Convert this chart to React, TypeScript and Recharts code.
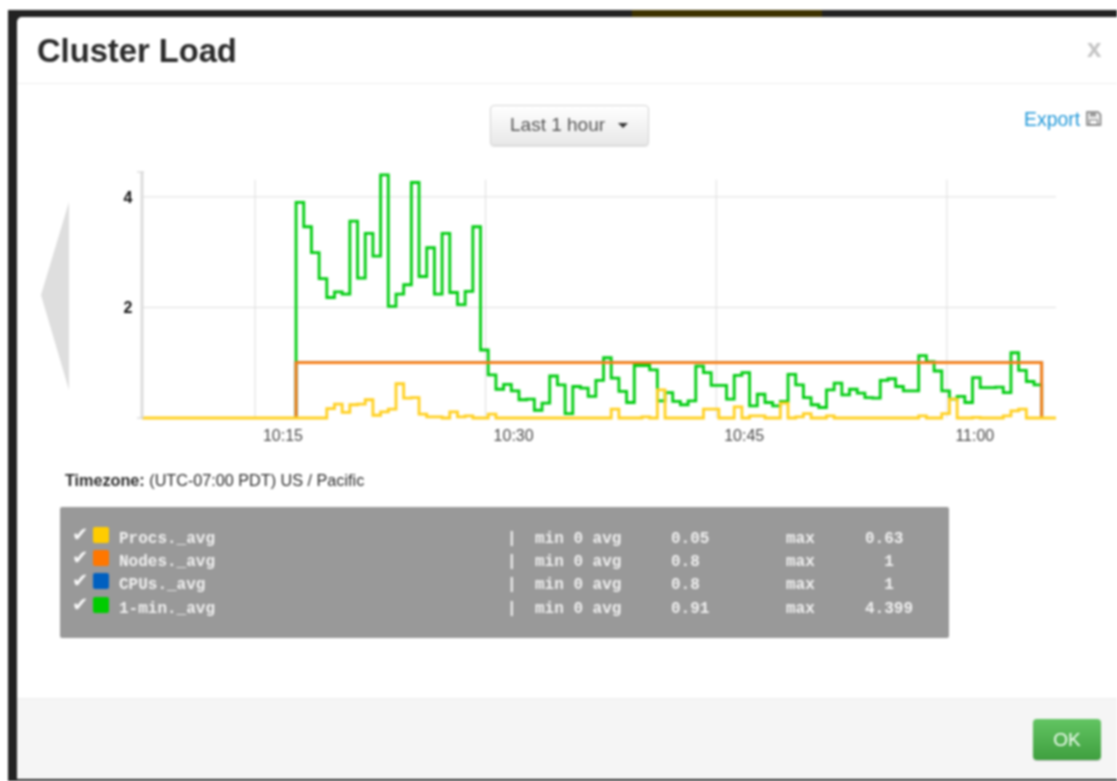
import { Line, LineChart, ReferenceLine, XAxis, YAxis } from 'recharts';

// minutes after 10:00 on the x axis, one bin every 30 seconds
const axisStart = 7.65;
const axisEnd = 67.1;
const firstBin = 17.67;
const binSize = 0.5;

const xTicks = [15, 30, 45, 60];
const xTickLabels = ['10:15', '10:30', '10:45', '11:00'];
const yTicks = [0, 2, 4, 4.45];
const yGrid = [2, 4];
const yMax = 4.45;

const loadValues = [
  3.9, 3.46, 2.99, 2.52, 2.18, 2.28, 2.24, 3.56, 2.53, 3.34,
  2.93, 4.399, 2.02, 2.24, 2.41, 4.26, 2.56, 3.08, 2.24, 3.34,
  2.27, 2.05, 2.29, 3.46, 1.23, 0.78, 0.52, 0.61, 0.49, 0.33,
  0.34, 0.14, 0.27, 0.76, 0.6, 0.08, 0.57, 0.54, 0.39, 0.68,
  1.09, 0.72, 0.48, 0.28, 0.95, 0.95, 0.87, 0.31, 0.46, 0.3,
  0.24, 0.31, 0.94, 0.82, 0.59, 0.59, 0.34, 0.77, 0.82, 0.22,
  0.43, 0.28, 0.22, 0.3, 0.79, 0.6, 0.37, 0.24, 0.19, 0.51,
  0.63, 0.42, 0.52, 0.45, 0.37, 0.36, 0.68, 0.71, 0.57, 0.49,
  0.49, 1.13, 1.02, 0.85, 0.49, 0.34, 0.39, 0.28, 0.73, 0.55,
  0.55, 0.56, 0.46, 1.18, 0.86, 0.66, 0.6,
];

const procsValues = [
  0, 0, 0, 0, 0.17, 0.25, 0.1, 0.24, 0.25, 0.33,
  0.05, 0.11, 0.16, 0.62, 0.36, 0.37, 0.07, 0.02, 0.02, 0,
  0.11, 0.02, 0.04, 0, 0, 0.07, 0, 0, 0, 0,
  0, 0, 0, 0, 0, 0, 0, 0, 0, 0,
  0, 0.16, 0, 0, 0, 0.02, 0, 0.51, 0, 0,
  0, 0, 0, 0.16, 0.16, 0, 0, 0.2, 0, 0.04,
  0.04, 0, 0, 0.27, 0, 0.02, 0.08, 0, 0, 0.04,
  0, 0, 0, 0, 0, 0, 0, 0, 0, 0,
  0, 0.04, 0, 0, 0.08, 0.34, 0, 0, 0.01, 0,
  0, 0, 0.04, 0.13, 0.16, 0, 0,
];

// nodes and cpus sit flat at 1 for the whole run
const nodesValues = [
  1, 1, 1, 1, 1, 1, 1, 1, 1, 1,
  1, 1, 1, 1, 1, 1, 1, 1, 1, 1,
  1, 1, 1, 1, 1, 1, 1, 1, 1, 1,
  1, 1, 1, 1, 1, 1, 1, 1, 1, 1,
  1, 1, 1, 1, 1, 1, 1, 1, 1, 1,
  1, 1, 1, 1, 1, 1, 1, 1, 1, 1,
  1, 1, 1, 1, 1, 1, 1, 1, 1, 1,
  1, 1, 1, 1, 1, 1, 1, 1, 1, 1,
  1, 1, 1, 1, 1, 1, 1, 1, 1, 1,
  1, 1, 1, 1, 1, 1, 1,
];
const cpusValues = nodesValues;

const legendNames = ['Procs._avg', 'Nodes._avg', 'CPUs._avg', '1-min._avg'];
const legendColors = ['#ffcc00', '#ff7700', '#0060c0', '#00cc00'];
const legendMins = ['0', '0', '0', '0'];
const legendAvgs = ['0.05', '0.8', '0.8', '0.91'];
const legendMaxes = ['0.63', '  1', '  1', '4.399'];
const legendTops = [527, 550, 573, 597];

const rows: Record<string, number>[] = [
  { t: axisStart, procs: 0 },
  { t: firstBin, procs: 0, nodes: 0, cpus: 0, load: 0 },
  ...loadValues.map((load, i) => ({
    t: firstBin + i * binSize,
    load,
    procs: procsValues[i],
    nodes: nodesValues[i],
    cpus: cpusValues[i],
  })),
  { t: firstBin + loadValues.length * binSize, procs: 0, nodes: 0, cpus: 0, load: 0 },
  { t: axisEnd, procs: 0 },
];

const sans = '"Liberation Sans", Arial, sans-serif';
const mono = '"Liberation Mono", monospace';

function XTick({ x, y, payload }: any) {
  const label = xTickLabels[xTicks.indexOf(payload.value)];
  return (
    <text x={x + 28} y={y + 15} textAnchor="middle" fontFamily={sans} fontSize={16} fill="#4a4a4a">
      {label}
    </text>
  );
}

function YTick({ x, y, payload }: any) {
  if (!yGrid.includes(payload.value)) {
    return <line x1={x + 3} x2={x + 10} y1={y} y2={y} stroke="#ccc" strokeWidth={1} />;
  }
  return (
    <text x={x - 6} y={y + 6} textAnchor="middle" fontFamily={sans} fontWeight="bold" fontSize={16} fill="#111">
      {payload.value}
    </text>
  );
}

function LoadChart() {
  return (
    <div style={{ position: 'absolute', left: 0, top: 150 }}>
      <LineChart
        width={1117}
        height={300}
        data={rows}
        margin={{ top: 22, right: 61, bottom: 0, left: 102 }}
      >
        <XAxis
          dataKey="t"
          type="number"
          domain={[axisStart, axisEnd]}
          ticks={xTicks}
          height={32}
          axisLine={false}
          tickLine={false}
          tick={<XTick />}
        />
        <YAxis
          type="number"
          width={40}
          domain={[0, yMax]}
          ticks={yTicks}
          axisLine={{ stroke: '#dcdcdc', strokeWidth: 3 }}
          tickLine={false}
          tick={<YTick />}
        />
        {yGrid.map((v) => (
          <ReferenceLine key={v} y={v} stroke="#dedede" strokeWidth={1} />
        ))}
        {xTicks.map((v) => (
          <ReferenceLine
            key={v}
            segment={[
              { x: v, y: 0 },
              { x: v, y: 4.31 },
            ]}
            stroke="#dedede"
            strokeWidth={1}
          />
        ))}
        <Line dataKey="load" type="stepAfter" stroke="#00cc10" strokeWidth={2.8} dot={false} isAnimationActive={false} />
        <Line dataKey="cpus" type="stepAfter" stroke={legendColors[2]} strokeWidth={2.8} dot={false} isAnimationActive={false} />
        <Line dataKey="nodes" type="stepAfter" stroke="#ff8010" strokeWidth={2.8} dot={false} isAnimationActive={false} />
        <Line dataKey="procs" type="stepAfter" stroke="#ffd020" strokeWidth={2.8} dot={false} isAnimationActive={false} />
      </LineChart>
    </div>
  );
}

function abs(left: number, top: number, extra: React.CSSProperties = {}): React.CSSProperties {
  return { position: 'absolute', left, top, whiteSpace: 'pre', ...extra };
}

function LegendPanel() {
  const text: React.CSSProperties = { fontFamily: mono, fontWeight: 'bold', fontSize: 16, lineHeight: '20px', color: '#f0f0f0' };
  return (
    <>
      <div style={abs(60, 507, { width: 889, height: 131, background: '#999', borderRadius: 2 })} />
      {legendNames.map((name, i) => {
        const top = legendTops[i];
        return (
          <div key={name}>
            <div style={abs(72, top - 3, { fontFamily: '"DejaVu Sans"', fontSize: 19.5, lineHeight: '22px', fontWeight: 'bold', color: '#f8f8f8' })}>✔</div>
            <div style={abs(93, top, { width: 16, height: 16, borderRadius: 2, background: legendColors[i] })} />
            <div style={abs(119, top + 2, text)}>{name}</div>
            <div style={abs(507, top + 2, text)}>|</div>
            <div style={abs(535, top + 2, text)}>{`min ${legendMins[i]} avg`}</div>
            <div style={abs(671, top + 2, text)}>{legendAvgs[i]}</div>
            <div style={abs(786, top + 2, text)}>max</div>
            <div style={abs(865, top + 2, text)}>{legendMaxes[i]}</div>
          </div>
        );
      })}
    </>
  );
}

export default function App() {
  return (
    <div style={{ position: 'fixed', left: 0, top: 0, width: 1117, height: 781, overflow: 'hidden', background: '#fff', fontFamily: sans, filter: 'blur(0.8px)' }}>
      {/* page behind the modal */}
      <div style={abs(8, 10, { width: 1109, height: 771, background: '#222' })} />
      <div style={abs(632, 10, { width: 190, height: 7, background: '#3d3200' })} />
      <div style={abs(17, 17, { width: 1100, height: 762, background: '#fff', borderRadius: '5px 0 0 5px' })} />

      {/* header */}
      <div style={abs(37, 31, { fontSize: 32.7, lineHeight: '40px', fontWeight: 'bold', color: '#2a2a2a' })}>Cluster Load</div>
      <div style={abs(1087, 33, { fontSize: 26, lineHeight: '30px', fontWeight: 'bold', color: '#c4c4c4' })}>x</div>
      <div style={abs(17, 83, { width: 1100, height: 1, background: '#eee' })} />

      {/* range picker */}
      <div style={abs(490, 105, { width: 157, height: 39, border: '1px solid #d4d4d4', borderRadius: 4, background: 'linear-gradient(#ffffff, #e8e8e8)', boxShadow: '0 1px 1px rgba(0,0,0,0.1)' })} />
      <div style={abs(510, 114, { fontSize: 19, lineHeight: '22px', color: '#555' })}>Last 1 hour</div>
      <div style={abs(618, 123, { width: 0, height: 0, borderLeft: '5px solid transparent', borderRight: '5px solid transparent', borderTop: '5px solid #333' })} />

      {/* export link */}
      <div style={abs(1024, 108, { fontSize: 19.4, lineHeight: '22px', color: '#1f97d8' })}>Export</div>
      <svg style={abs(1085, 110)} width={17} height={17} viewBox="0 0 17 17">
        <path d="M2 2 H13 L15.5 4.5 V15 H2 Z" fill="#eee" stroke="#777" strokeWidth={1.5} />
        <rect x={5} y={2.5} width={6} height={4} fill="#999" />
        <rect x={4.5} y={10} width={8} height={4.5} fill="#fff" stroke="#777" />
      </svg>

      {/* previous arrow */}
      <svg style={abs(40, 200)} width={30} height={192}>
        <polygon points="1,95 29,2 29,190" fill="#dedede" />
      </svg>

      <LoadChart />

      <div style={abs(65, 471, { fontSize: 16.2, lineHeight: '18px', color: '#2a2a2a' })}>
        <b>Timezone:</b> (UTC-07:00 PDT) US / Pacific
      </div>

      <LegendPanel />

      {/* footer */}
      <div style={abs(17, 698, { width: 1100, height: 81, background: '#f5f5f5', borderTop: '1px solid #eee', boxSizing: 'border-box' })} />
      <div style={abs(1033, 719, { width: 68, height: 41, borderRadius: 4, background: 'linear-gradient(#62c462, #3f9f3f)', boxShadow: '0 1px 1px rgba(0,0,0,0.2)', textAlign: 'center', fontSize: 19, lineHeight: '41px', color: '#f4fff4' })}>OK</div>
    </div>
  );
}
